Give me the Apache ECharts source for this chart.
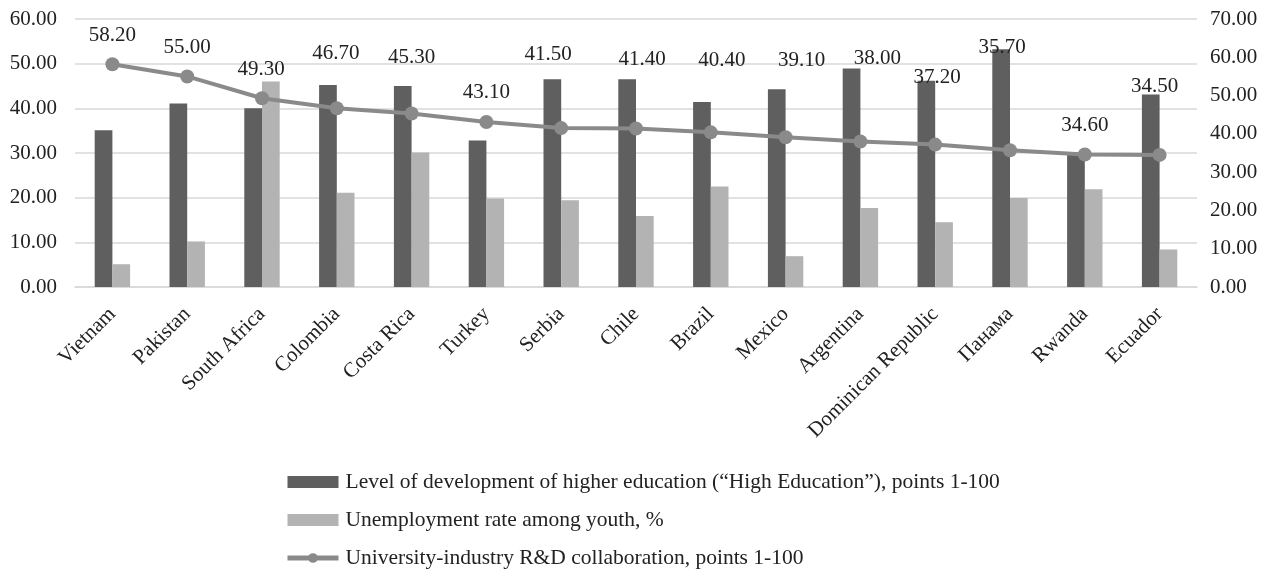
<!DOCTYPE html>
<html>
<head>
<meta charset="utf-8">
<script src="https://cdn.jsdelivr.net/npm/echarts@6/dist/echarts.min.js"></script>
<style>
  html, body { margin: 0; padding: 0; background: #fff; }
  #chart { width: 1274px; height: 572px; }
</style>
</head>
<body>
<div id="chart"></div>
<script>
// values
const countries = ['Vietnam', 'Pakistan', 'South Africa', 'Colombia', 'Costa Rica', 'Turkey', 'Serbia',
  'Chile', 'Brazil', 'Mexico', 'Argentina', 'Dominican Republic', 'Панама', 'Rwanda', 'Ecuador'];
const highEducation = [35.1, 41.1, 40.0, 45.2, 45.0, 32.8, 46.5, 46.5, 41.4, 44.3, 48.9, 46.2, 53.2, 29.6, 43.1];
const youthUnemployment = [5.1, 10.2, 46.0, 21.1, 30.1, 19.8, 19.4, 15.9, 22.5, 6.9, 17.7, 14.5, 19.9, 21.9, 8.4];
const rdCollaboration = [58.2, 55.0, 49.3, 46.7, 45.3, 43.1, 41.5, 41.4, 40.4, 39.1, 38.0, 37.2, 35.7, 34.6, 34.5];
const leftTicks = { min: 0, max: 60, step: 10 };
const rightTicks = { min: 0, max: 70, step: 10 };

// label placement (shift from the marker), like the hand-moved labels in the original
const labelShiftX = [0, 0, -1, -1, 0, 0, -13, 6, 11, 16, 17, 2, -8, 0, -5];
const labelShiftY = [-29, -29, -29, -55, -56, -30, -74, -69, -72, -77, -83, -67, -103, -29, -68];

const font = '"Liberation Serif", "Times New Roman", serif';
const lineGrey = '#8a8a8a';
const chart = echarts.init(document.getElementById('chart'));

const option = {
    backgroundColor: '#fff',
    textStyle: { fontFamily: font, color: '#222' },
    grid: { left: 75, right: 77, top: 19, bottom: 285 },
    legend: {
        orient: 'vertical',
        left: 280,
        top: 466,
        height: 106,
        itemGap: 16,
        itemWidth: 51,
        itemHeight: 12,
        textStyle: { fontFamily: font, fontSize: 21.5, color: '#222', padding: [0, 0, 0, 2] },
        data: [
            { name: 'Level of development of higher education (\u201cHigh Education\u201d), points 1-100', icon: 'rect' },
            { name: 'Unemployment rate among youth, %', icon: 'rect' },
            {
                name: 'University-industry R&D collaboration, points 1-100',
                lineStyle: { width: 5, color: lineGrey },
                itemStyle: { color: lineGrey }
            }
        ]
    },
    xAxis: {
        type: 'category',
        data: countries,
        axisTick: { show: false },
        axisLine: { lineStyle: { color: '#d9d9d9', width: 1.5 } },
        axisLabel: {
            rotate: 45, interval: 0, fontFamily: font, fontSize: 21, color: '#222',
            margin: 24
        }
    },
    yAxis: [{
        type: 'value',
        min: leftTicks.min, max: leftTicks.max, interval: leftTicks.step,
        axisLine: { show: false },
        axisTick: { show: false },
        splitLine: { lineStyle: { color: '#d9d9d9', width: 1.5 } },
        axisLabel: { fontFamily: font, fontSize: 21, color: '#222', margin: 18, formatter: v => v.toFixed(2) }
    }, {
        type: 'value',
        min: rightTicks.min, max: rightTicks.max, interval: rightTicks.step,
        axisLine: { show: false },
        axisTick: { show: false },
        splitLine: { show: false },
        axisLabel: { fontFamily: font, fontSize: 21, color: '#222', margin: 13, formatter: v => v.toFixed(2) }
    }],
    series: [{
        name: 'Level of development of higher education (\u201cHigh Education\u201d), points 1-100',
        type: 'bar',
        data: highEducation,
        barWidth: 17.7,
        barGap: '0%',
        itemStyle: { color: '#5f5f5f' },
        animation: false
    }, {
        name: 'Unemployment rate among youth, %',
        type: 'bar',
        data: youthUnemployment,
        barWidth: 17.7,
        barGap: '0%',
        itemStyle: { color: '#b3b3b3' },
        animation: false
    }, {
        name: 'University-industry R&D collaboration, points 1-100',
        type: 'line',
        yAxisIndex: 1,
        data: rdCollaboration.map((v, i) => ({
            value: v,
            label: { offset: [labelShiftX[i], labelShiftY[i]] }
        })),
        symbol: 'circle',
        symbolSize: 14,
        lineStyle: { color: lineGrey, width: 4 },
        itemStyle: { color: lineGrey },
        label: {
            show: true,
            position: 'inside',
            fontFamily: font,
            fontSize: 21,
            color: '#222',
            formatter: p => p.value.toFixed(2)
        },
        z: 5,
        animation: false
    }]
};

chart.setOption(option);
</script>
</body>
</html>
